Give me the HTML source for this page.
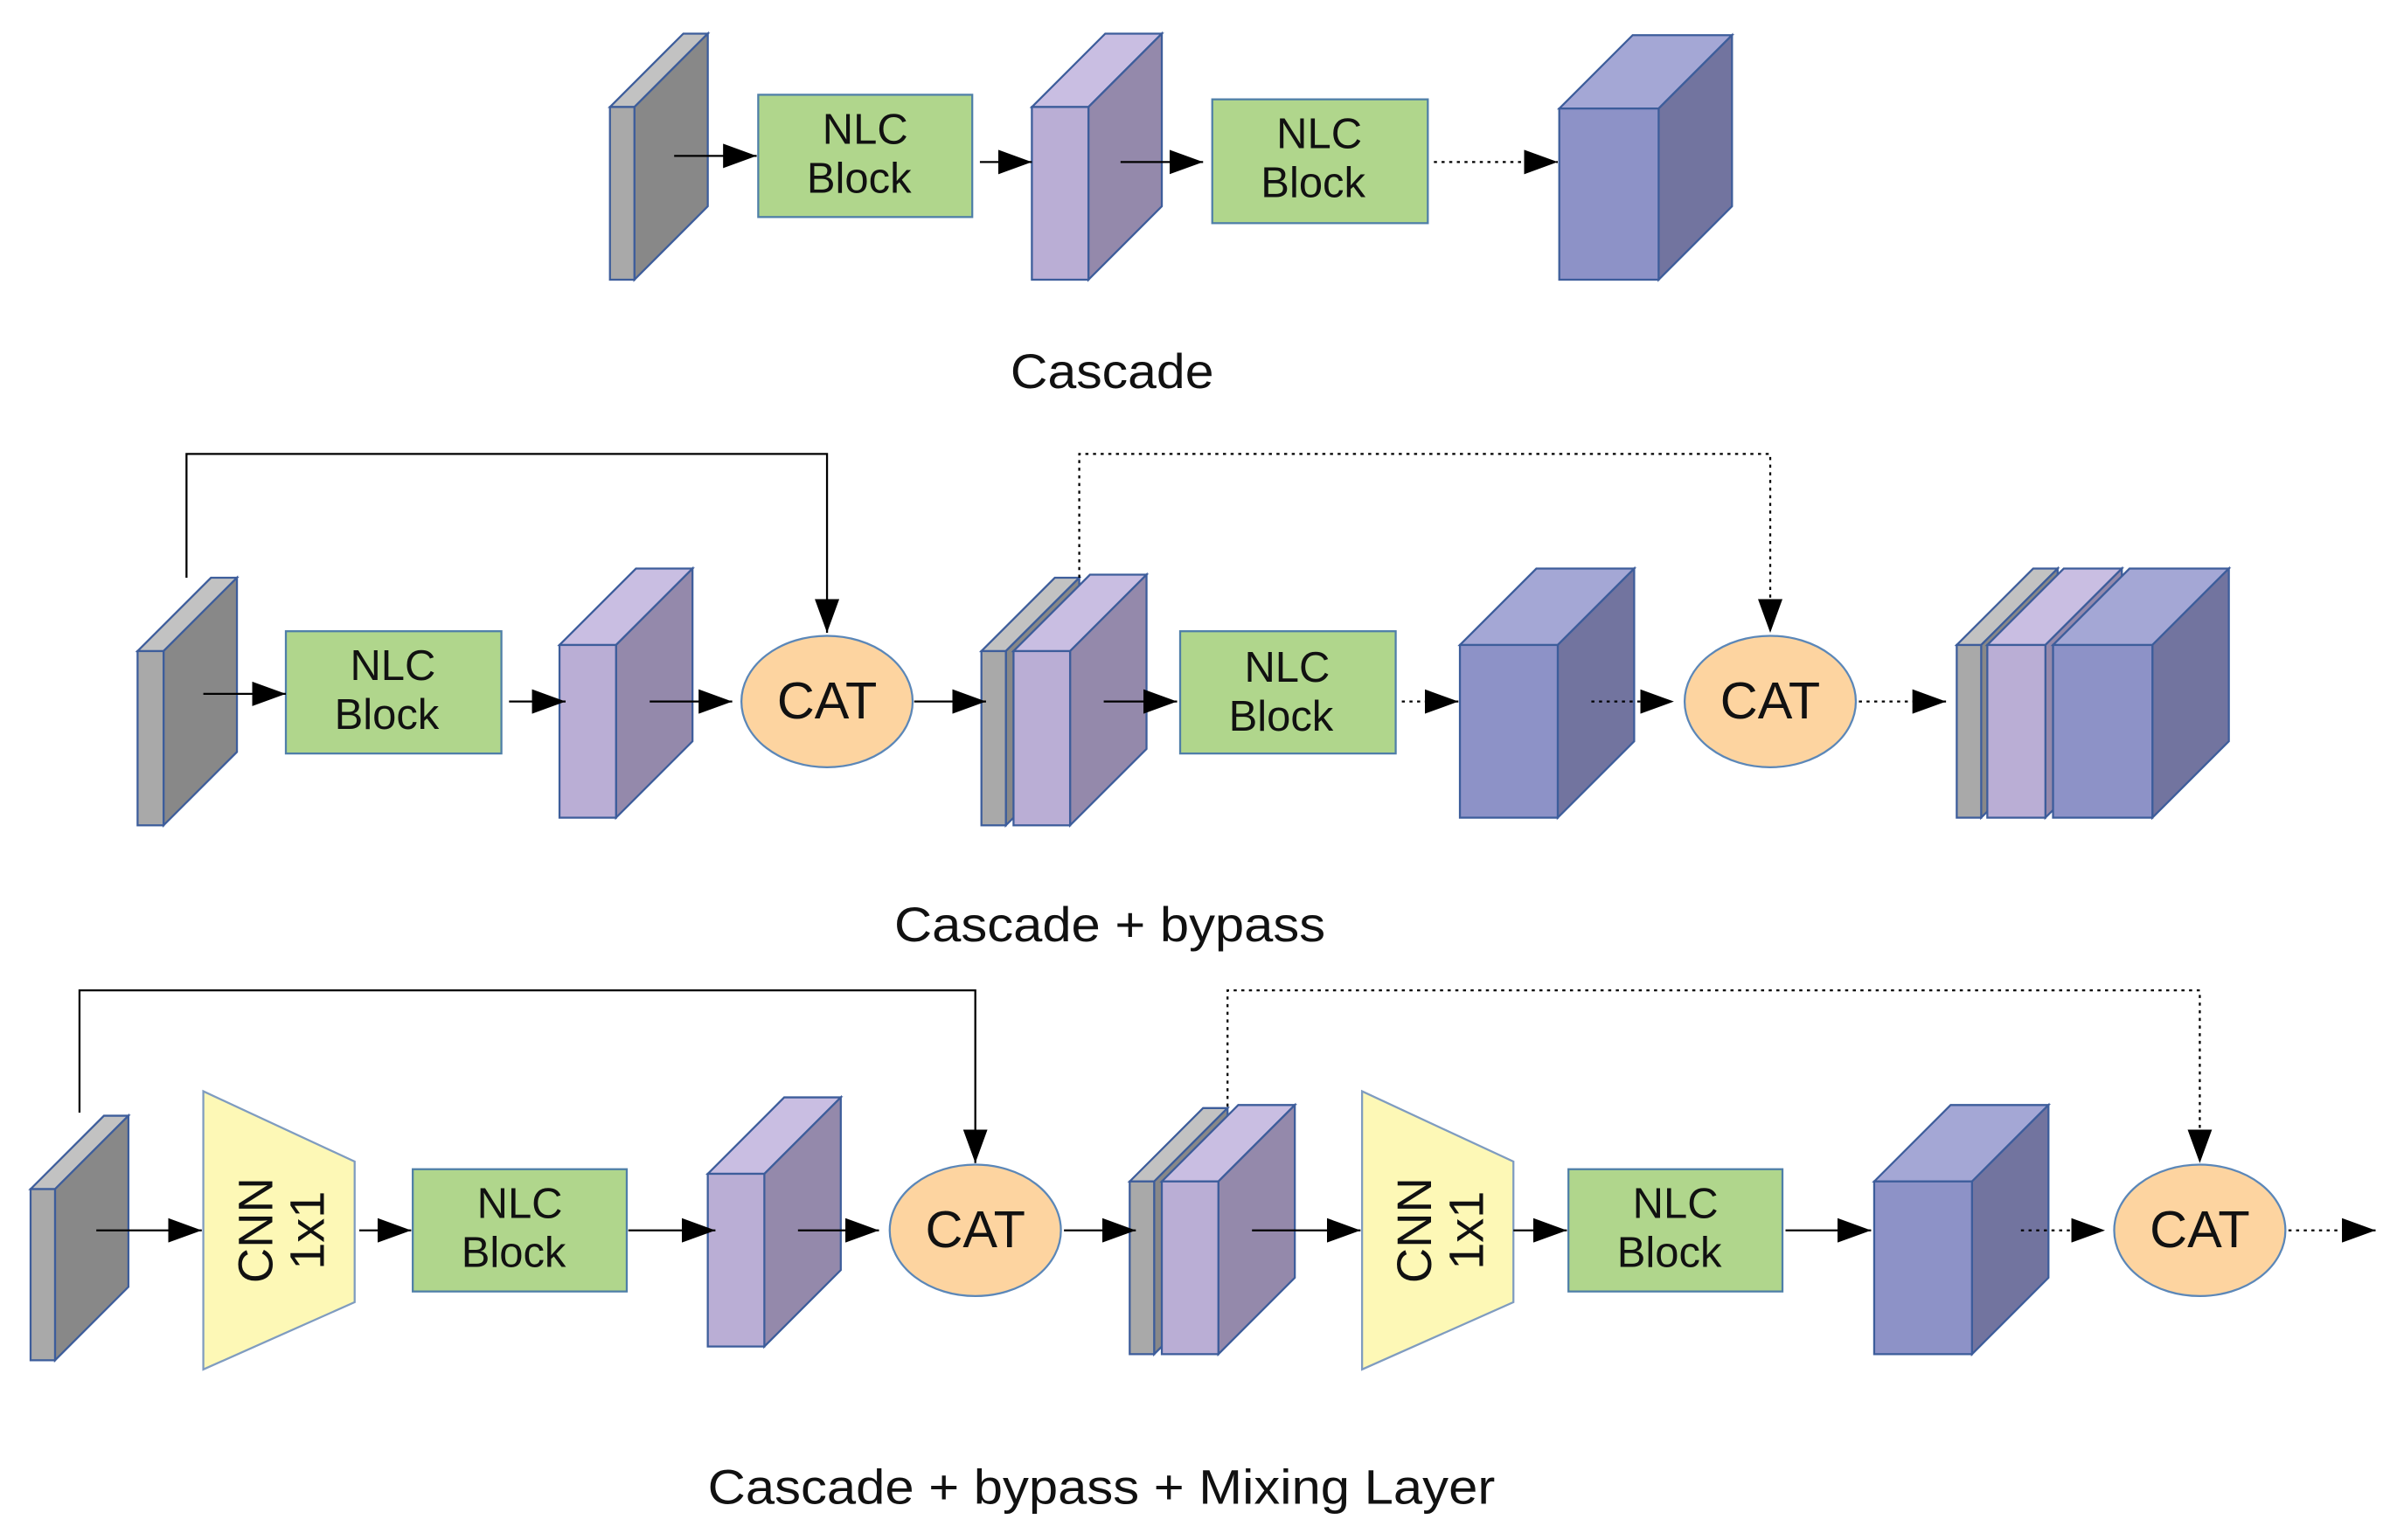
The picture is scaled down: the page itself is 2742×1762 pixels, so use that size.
<!DOCTYPE html>
<html><head><meta charset="utf-8"><style>
html,body{margin:0;padding:0;background:#fff;}
svg{display:block;}
text{font-family:"Liberation Sans",sans-serif;fill:#111;}
</style></head><body>
<svg id="s" width="2742" height="1762" viewBox="0 0 1568 1007.6" preserveAspectRatio="none" xmlns="http://www.w3.org/2000/svg">
<defs>
<marker id="ah2" markerWidth="22" markerHeight="16" refX="22" refY="8" orient="auto" markerUnits="userSpaceOnUse" viewBox="0 0 22 16">
<path d="M0,0 L22,8 L0,16 z" fill="#000"/></marker>
</defs>
<g id="shapes"></g>
<g id="lines" fill="none" stroke="#000" stroke-width="1.3"></g>
<g font-size="28" text-anchor="middle">
<text x="566" y="94">NLC</text><text x="562" y="126">Block</text>
<text x="863" y="97">NLC</text><text x="859" y="129">Block</text>
<text x="257" y="445">NLC</text><text x="253" y="477">Block</text>
<text x="842" y="446">NLC</text><text x="838" y="478">Block</text>
<text x="340" y="797">NLC</text><text x="336" y="829">Block</text>
<text x="1096" y="797">NLC</text><text x="1092" y="829">Block</text>
<text x="541" y="470" font-size="34">CAT</text>
<text x="1158" y="470" font-size="34">CAT</text>
<text x="638" y="816" font-size="34">CAT</text>
<text x="1439" y="816" font-size="34">CAT</text>
<g transform="translate(182,805) rotate(-90)"><text x="0" y="-4" font-size="32">CNN</text><text x="0" y="30" font-size="32">1x1</text></g>
<g transform="translate(940,805) rotate(-90)"><text x="0" y="-4" font-size="32">CNN</text><text x="0" y="30" font-size="32">1x1</text></g>
</g>
<g font-size="32">
<text x="661" y="254" textLength="133" lengthAdjust="spacingAndGlyphs">Cascade</text>
<text x="585" y="616" textLength="282" lengthAdjust="spacingAndGlyphs">Cascade + bypass</text>
<text x="463" y="984" textLength="515" lengthAdjust="spacingAndGlyphs">Cascade + bypass + Mixing Layer</text>
</g>
</svg>
<script>
var NS="http://www.w3.org/2000/svg",S=document.getElementById("shapes"),L=document.getElementById("lines");
function el(p,t,a){var e=document.createElementNS(NS,t);for(var k in a)e.setAttribute(k,a[k]);p.appendChild(e);return e;}
var C={g:["#a9a9a9","#888888","#c2c2c2"],p:["#baaed5","#9489ab","#c9bee2"],b:["#8d92c7","#72749f","#a4a7d5"]};
var ST="#3d5d9b";
function cub(x1,x2,y1,y2,d,t){var c=C[t];
el(S,"polygon",{points:[x1,y1,x1+d,y1-d,x2+d,y1-d,x2,y1].join(" "),fill:c[2],stroke:ST,"stroke-width":1.3});
el(S,"polygon",{points:[x2,y1,x2+d,y1-d,x2+d,y2-d,x2,y2].join(" "),fill:c[1],stroke:ST,"stroke-width":1.3});
el(S,"rect",{x:x1,y:y1,width:x2-x1,height:y2-y1,fill:c[0],stroke:ST,"stroke-width":1.3});}
function box(x1,y1,x2,y2){el(S,"rect",{x:x1,y:y1,width:x2-x1,height:y2-y1,fill:"#b0d68c",stroke:"#4f7fa8","stroke-width":1.3});}
function cat(cx,cy){el(S,"ellipse",{cx:cx,cy:cy,rx:56,ry:43,fill:"#fdd4a0",stroke:"#5b87b8","stroke-width":1.3});}
function trap(x){el(S,"polygon",{points:[x,714,x+99,760,x+99,852,x,896].join(" "),fill:"#fdf8b6",stroke:"#7f9cc0","stroke-width":1.3});}
function ar(x1,x2,y,dot){var a={d:"M"+x1+","+y+" L"+x2+","+y,"marker-end":"url(#ah2)"};if(dot)a["stroke-dasharray"]="2,3";el(L,"path",a);}
function by(pts,dot){var a={d:"M"+pts.map(function(p){return p.join(",")}).join(" L"),"marker-end":"url(#ah2)"};if(dot)a["stroke-dasharray"]="2,3";el(L,"path",a);}
cub(399,415,70,183,48,"g");box(496,62,636,142);cub(675,712,70,183,48,"p");box(793,65,934,146);cub(1020,1085,71,183,48,"b");
ar(441,495,102);ar(641,675,106);ar(733,787,106);ar(938,1019,106,1);
cub(90,107,426,540,48,"g");box(187,413,328,493);cub(366,403,422,535,50,"p");cat(541,459);
cub(642,658,426,540,48,"g");cub(663,700,426,540,50,"p");box(772,413,913,493);cub(955,1019,422,535,50,"b");cat(1158,459);
cub(1280,1296,422,535,50,"g");cub(1300,1338,422,535,50,"p");cub(1343,1408,422,535,50,"b");
ar(133,187,454);ar(333,370,459);ar(425,479,459);ar(598,645,459);ar(722,770,459);ar(917,954,459,1);ar(1041,1095,459,1);ar(1216,1273,459,1);
by([[122,378],[122,297],[541,297],[541,414]]);by([[706,378],[706,297],[1158,297],[1158,414]],1);
cub(20,36,778,890,48,"g");trap(133);box(270,765,410,845);cub(463,500,768,881,50,"p");cat(638,805);
cub(739,755,773,886,48,"g");cub(760,797,773,886,50,"p");trap(891);box(1026,765,1166,845);cub(1226,1290,773,886,50,"b");cat(1439,805);
ar(63,132,805);ar(235,269,805);ar(411,468,805);ar(522,575,805);ar(696,743,805);ar(819,890,805);ar(990,1025,805);ar(1168,1224,805);ar(1322,1377,805,1);ar(1497,1554,805,1);
by([[52,728],[52,648],[638,648],[638,761]]);by([[803,724],[803,648],[1439,648],[1439,761]],1);
</script>
</body></html>
